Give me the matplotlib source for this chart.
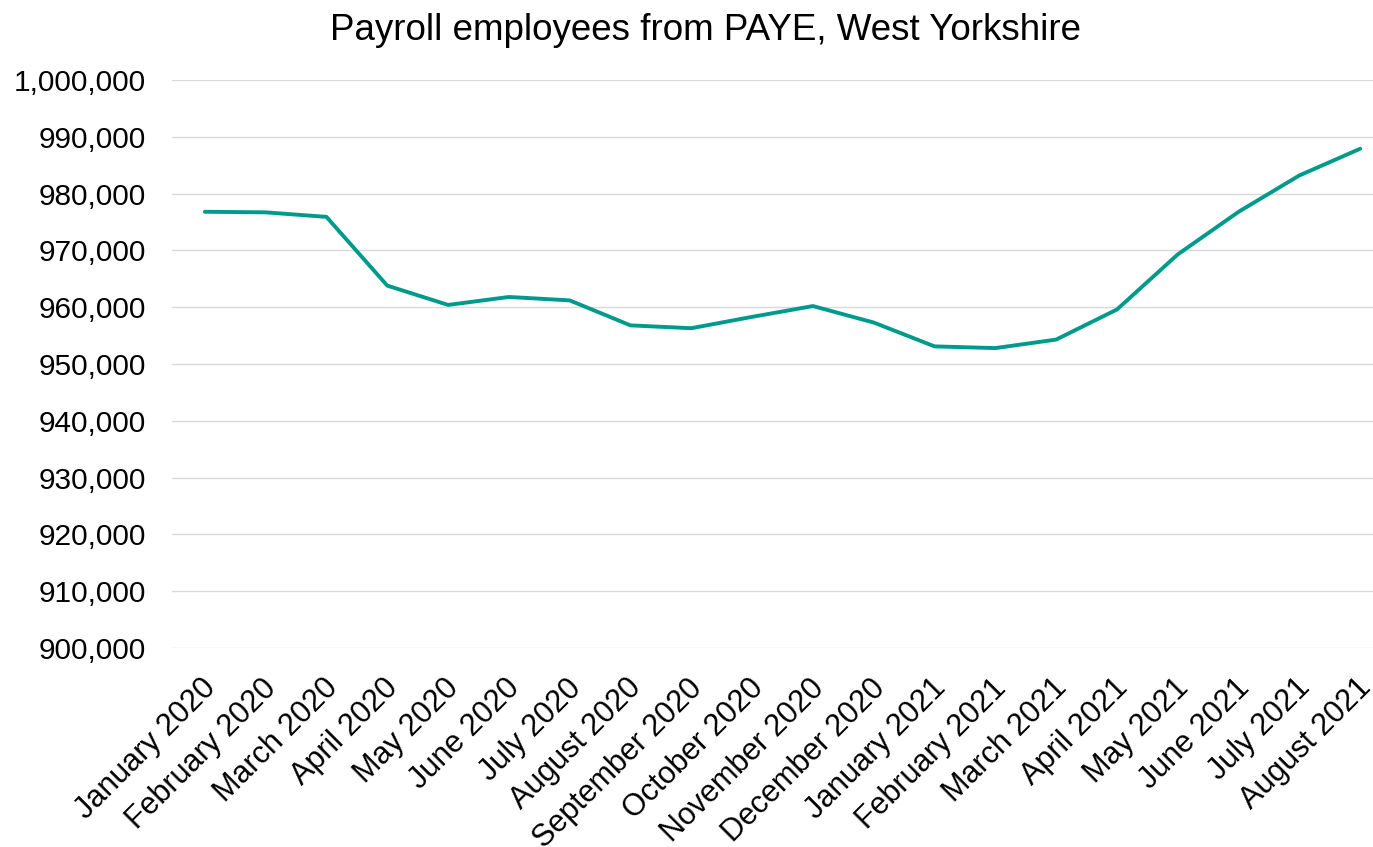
import matplotlib
matplotlib.use("Agg")
import matplotlib.pyplot as plt
import matplotlib.transforms as mtransforms
from matplotlib.ticker import FuncFormatter, MultipleLocator

months = ["January 2020", "February 2020", "March 2020", "April 2020", "May 2020",
          "June 2020", "July 2020", "August 2020", "September 2020", "October 2020",
          "November 2020", "December 2020", "January 2021", "February 2021",
          "March 2021", "April 2021", "May 2021", "June 2021", "July 2021", "August 2021"]
employees = [976800, 976700, 975900, 963800, 960400, 961800, 961200, 956800, 956300,
             958300, 960200, 957300, 953100, 952800, 954300, 959600, 969300, 976800,
             983200, 987900]

plt.rcParams['font.family'] = ['Liberation Sans', 'DejaVu Sans']

W, H = 1373, 847
fig = plt.figure(figsize=(W / 100, H / 100), dpi=100)
ax = fig.add_axes([172 / W, 1 - 648 / H, (1373 - 172) / W, (648 - 80) / H])

x = list(range(len(months)))
ax.plot(x, employees, color="#009A8D", linewidth=2.8, solid_capstyle="round",
        solid_joinstyle="round", zorder=3)

ax.set_ylim(900000, 1000000)
ax.set_xlim(-0.54, 19.21)
ax.yaxis.set_major_locator(MultipleLocator(10000))
ax.yaxis.set_major_formatter(FuncFormatter(lambda v, p: f"{int(round(v)):,}"))
ax.grid(axis="y", color="#d9d9d9", linewidth=1.0)
ax.set_axisbelow(True)
for s in ax.spines.values():
    s.set_visible(False)
ax.tick_params(axis="y", length=0, pad=19, labelsize=21.5, colors="#000000")
ax.tick_params(axis="x", length=0, pad=18, labelsize=22)
ax.set_xticks(x)
ax.set_xticklabels(months, rotation=45, ha="right", rotation_mode="anchor")
shift = mtransforms.ScaledTranslation(-4 / 100, 0, fig.dpi_scale_trans)
for lbl in ax.get_xticklabels():
    lbl.set_transform(lbl.get_transform() + shift)

fig.text(705 / W, 1 - 31 / H, "Payroll employees from PAYE, West Yorkshire",
         ha="center", va="center", fontsize=26.5)

fig.savefig("out.png", dpi=100)
